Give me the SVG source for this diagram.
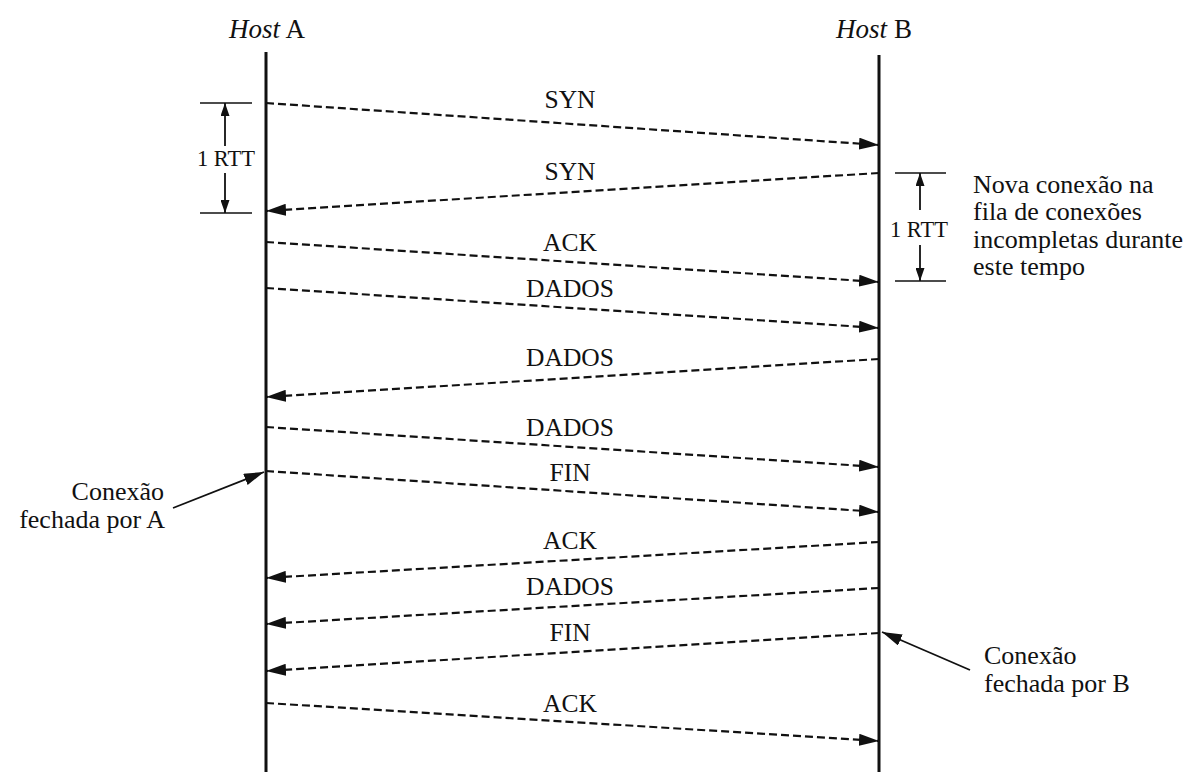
<svg xmlns="http://www.w3.org/2000/svg" width="1191" height="772" viewBox="0 0 1191 772">
  <style>
    .lifeline { stroke: #111; stroke-width: 3; fill: none; }
    .msg { stroke: #111; stroke-width: 2.2; stroke-dasharray: 8 4; fill: none; }
    .tick { stroke: #111; stroke-width: 1.5; fill: none; }
    .note { stroke: #111; stroke-width: 1.8; fill: none; }
    .rtt { stroke: #111; stroke-width: 1.8; fill: none; }
    text { font-family: "Liberation Serif", "Times New Roman", serif; fill: #111; }
    .host { font-size: 27px; }
    .lbl { font-size: 25.5px; text-anchor: middle; }
    .small { font-size: 22.5px; text-anchor: middle; }
    .side { font-size: 26px; }
  </style>
  <defs>
    <marker id="head" viewBox="0 0 20 12" markerWidth="20" markerHeight="12" refX="20" refY="6" orient="auto" markerUnits="userSpaceOnUse">
      <path d="M0,0 L20,6 L0,12 z" fill="#111"/>
    </marker>
    <marker id="headSmall" viewBox="0 0 13 9" markerWidth="13" markerHeight="9" refX="13" refY="4.5" orient="auto" markerUnits="userSpaceOnUse">
      <path d="M0,0 L13,4.5 L0,9 z" fill="#111"/>
    </marker>
  </defs>

  <!-- hosts and their time lines -->
  <g id="hostA">
    <text class="host" x="267" y="38" text-anchor="middle"><tspan font-style="italic">Host</tspan> A</text>
    <line class="lifeline" x1="266" y1="52" x2="266" y2="772"/>
  </g>
  <g id="hostB">
    <text class="host" x="874" y="38" text-anchor="middle"><tspan font-style="italic">Host</tspan> B</text>
    <line class="lifeline" x1="879" y1="55" x2="879" y2="772"/>
  </g>

  <!-- round-trip time on the A side -->
  <g id="rttA">
    <line class="tick" x1="200" y1="103" x2="252" y2="103"/>
    <line class="tick" x1="200" y1="213" x2="252" y2="213"/>
    <line class="rtt" x1="225" y1="146" x2="225" y2="103" marker-end="url(#headSmall)"/>
    <line class="rtt" x1="225" y1="173" x2="225" y2="213" marker-end="url(#headSmall)"/>
    <text class="small" x="226" y="166">1 RTT</text>
  </g>

  <!-- round-trip time on the B side -->
  <g id="rttB">
    <line class="tick" x1="895" y1="173" x2="946" y2="173"/>
    <line class="tick" x1="895" y1="281" x2="946" y2="281"/>
    <line class="rtt" x1="920" y1="210" x2="920" y2="173" marker-end="url(#headSmall)"/>
    <line class="rtt" x1="920" y1="245" x2="920" y2="281" marker-end="url(#headSmall)"/>
    <text class="small" x="919" y="237">1 RTT</text>
  </g>

  <!-- segments exchanged between the hosts -->
  <g id="connectors">
    <line class="msg" x1="266" y1="103" x2="879" y2="145" marker-end="url(#head)"/>
    <line class="msg" x1="879" y1="173" x2="266" y2="211" marker-end="url(#head)"/>
    <line class="msg" x1="266" y1="242" x2="879" y2="282" marker-end="url(#head)"/>
    <line class="msg" x1="266" y1="288" x2="879" y2="328" marker-end="url(#head)"/>
    <line class="msg" x1="879" y1="359" x2="266" y2="397" marker-end="url(#head)"/>
    <line class="msg" x1="266" y1="427" x2="879" y2="467" marker-end="url(#head)"/>
    <line class="msg" x1="266" y1="471" x2="879" y2="512" marker-end="url(#head)"/>
    <line class="msg" x1="879" y1="542" x2="266" y2="578" marker-end="url(#head)"/>
    <line class="msg" x1="879" y1="588" x2="266" y2="624" marker-end="url(#head)"/>
    <line class="msg" x1="879" y1="633" x2="266" y2="671" marker-end="url(#head)"/>
    <line class="msg" x1="266" y1="703" x2="879" y2="741" marker-end="url(#head)"/>
    <!-- pointers from the closing notes -->
    <line class="note" x1="173" y1="508" x2="264" y2="472" marker-end="url(#head)"/>
    <line class="note" x1="970" y1="670" x2="882" y2="632" marker-end="url(#head)"/>
  </g>

  <!-- segment labels -->
  <g id="labels">
    <text class="lbl" x="570" y="108">SYN</text>
    <text class="lbl" x="570" y="180">SYN</text>
    <text class="lbl" x="570" y="251">ACK</text>
    <text class="lbl" x="570" y="297">DADOS</text>
    <text class="lbl" x="570" y="366">DADOS</text>
    <text class="lbl" x="570" y="436">DADOS</text>
    <text class="lbl" x="570" y="481">FIN</text>
    <text class="lbl" x="570" y="549">ACK</text>
    <text class="lbl" x="570" y="595">DADOS</text>
    <text class="lbl" x="570" y="641">FIN</text>
    <text class="lbl" x="570" y="712">ACK</text>
  </g>

  <!-- side notes -->
  <g id="noteQueue">
    <text class="side" x="973" y="193">Nova conexão na</text>
    <text class="side" x="973" y="220">fila de conexões</text>
    <text class="side" x="973" y="248">incompletas durante</text>
    <text class="side" x="973" y="275">este tempo</text>
  </g>
  <g id="noteCloseA">
    <text class="side" x="164" y="500" text-anchor="end">Conexão</text>
    <text class="side" x="165" y="528" text-anchor="end">fechada por A</text>
  </g>
  <g id="noteCloseB">
    <text class="side" x="984" y="664">Conexão</text>
    <text class="side" x="984" y="692">fechada por B</text>
  </g>
</svg>
